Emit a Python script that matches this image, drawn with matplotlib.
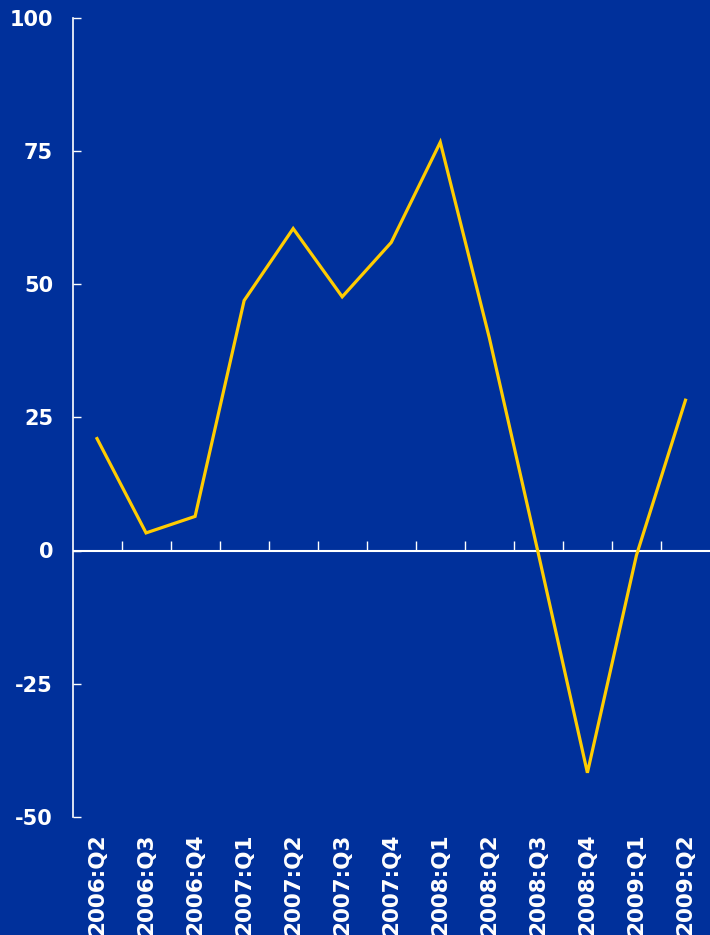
import matplotlib
matplotlib.use("Agg")
import matplotlib.pyplot as plt
import numpy as np

quarters = ["2006:Q2", "2006:Q3", "2006:Q4", "2007:Q1", "2007:Q2", "2007:Q3",
            "2007:Q4", "2008:Q1", "2008:Q2", "2008:Q3", "2008:Q4", "2009:Q1",
            "2009:Q2"]
values = [21.0, 3.3, 6.4, 46.9, 60.4, 47.6, 57.8, 76.6, 39.9, -0.6, -41.7, -0.9, 28.2]
y_ticks = [-50, -25, 0, 25, 50, 75, 100]

BG = "#00309B"
LINE = "#FFCC00"
FG = "white"

plt.rcParams["font.family"] = ["DejaVu Sans"]

fig = plt.figure(figsize=(7.10, 9.35), dpi=100, facecolor=BG)
ax = fig.add_axes([72.5 / 710, 1 - 817 / 935, 1 - 72.5 / 710, (817 - 17.5) / 935])
ax.set_facecolor(BG)

x = np.arange(len(quarters))
ax.plot(x, values, color=LINE, lw=2.3, solid_joinstyle="miter", zorder=3)

ax.set_xlim(-0.5, len(quarters) - 0.5)
ax.set_ylim(-50, 100)

for s in ["top", "right", "bottom"]:
    ax.spines[s].set_visible(False)
ax.spines["left"].set_color(FG)
ax.spines["left"].set_linewidth(1.2)

ax.set_yticks(y_ticks)
ax.set_yticklabels([str(v) for v in y_ticks])
ax.tick_params(axis="y", direction="in", length=6, width=1, color=FG,
               labelcolor=FG, labelsize=15, pad=14)
for lab in ax.get_yticklabels():
    lab.set_fontweight("bold")

# category labels along the bottom
ax.set_xticks(x)
ax.set_xticklabels(quarters, rotation=90, fontsize=15.5, fontweight="bold", color=FG)
ax.tick_params(axis="x", length=0, pad=12)

# zero line with ticks between categories
ax.axhline(0, color=FG, lw=1.5, zorder=2)
zero_frac = (0 - (-50)) / (100 - (-50))
sec = ax.secondary_xaxis(zero_frac)
sec.spines["bottom"].set_visible(False)
sec.spines["top"].set_visible(False)
sec.set_xticks(x[:-1] + 0.5)
sec.set_xticklabels([])
sec.tick_params(axis="x", direction="in", length=7, width=1, color=FG)

fig.savefig("out.png", dpi=100, facecolor=BG)
